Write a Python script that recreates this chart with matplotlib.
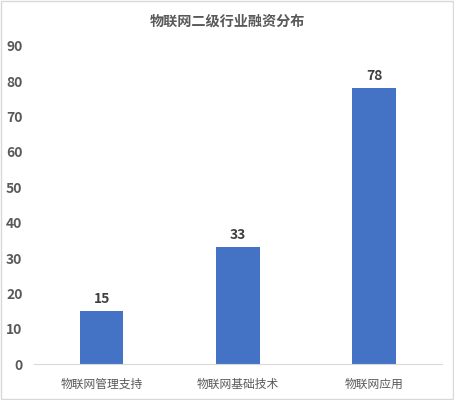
import matplotlib.pyplot as plt
from matplotlib.patches import Rectangle

plt.rcParams['font.family'] = ['Noto Sans CJK SC', 'DejaVu Sans']

categories = ['物联网管理支持', '物联网基础技术', '物联网应用']
values = [15, 33, 78]
yticks = [0, 10, 20, 30, 40, 50, 60, 70, 80, 90]
title = '物联网二级行业融资分布'

fig = plt.figure(figsize=(4.54, 4.0), dpi=100)
ax = fig.add_axes([0.074, 0.09, 0.8996, 0.795])

x = range(len(categories))
bars = ax.bar(x, values, width=0.32, color='#4472C4', zorder=2)
for b, v in zip(bars, values):
    ax.text(b.get_x() + b.get_width() / 2, v + 1.5, str(v), ha='center', va='bottom',
            fontsize=10, fontweight='bold', color='#404040')

ax.set_xlim(-0.5, 2.5)
ax.set_ylim(0, 90)
ax.set_yticks(yticks)
ax.set_xticks(list(x))
ax.set_xticklabels(categories, fontsize=8.5, color='#595959')
ax.tick_params(axis='y', labelsize=10, colors='#595959', length=0, pad=8)
ax.tick_params(axis='x', length=0, pad=10)
for lbl in ax.get_yticklabels():
    lbl.set_fontweight('bold')

for s in ['top', 'right', 'left']:
    ax.spines[s].set_visible(False)
ax.spines['bottom'].set_color('#d9d9d9')

fig.text(0.5, 0.945, title, ha='center', va='center', fontsize=10.2,
         fontweight='bold', color='#595959')

fig.patches.append(Rectangle((0.002, 0.002), 0.996, 0.996, transform=fig.transFigure,
                             fill=False, edgecolor='#d9d9d9', linewidth=1))

fig.savefig('out.png', dpi=100)
